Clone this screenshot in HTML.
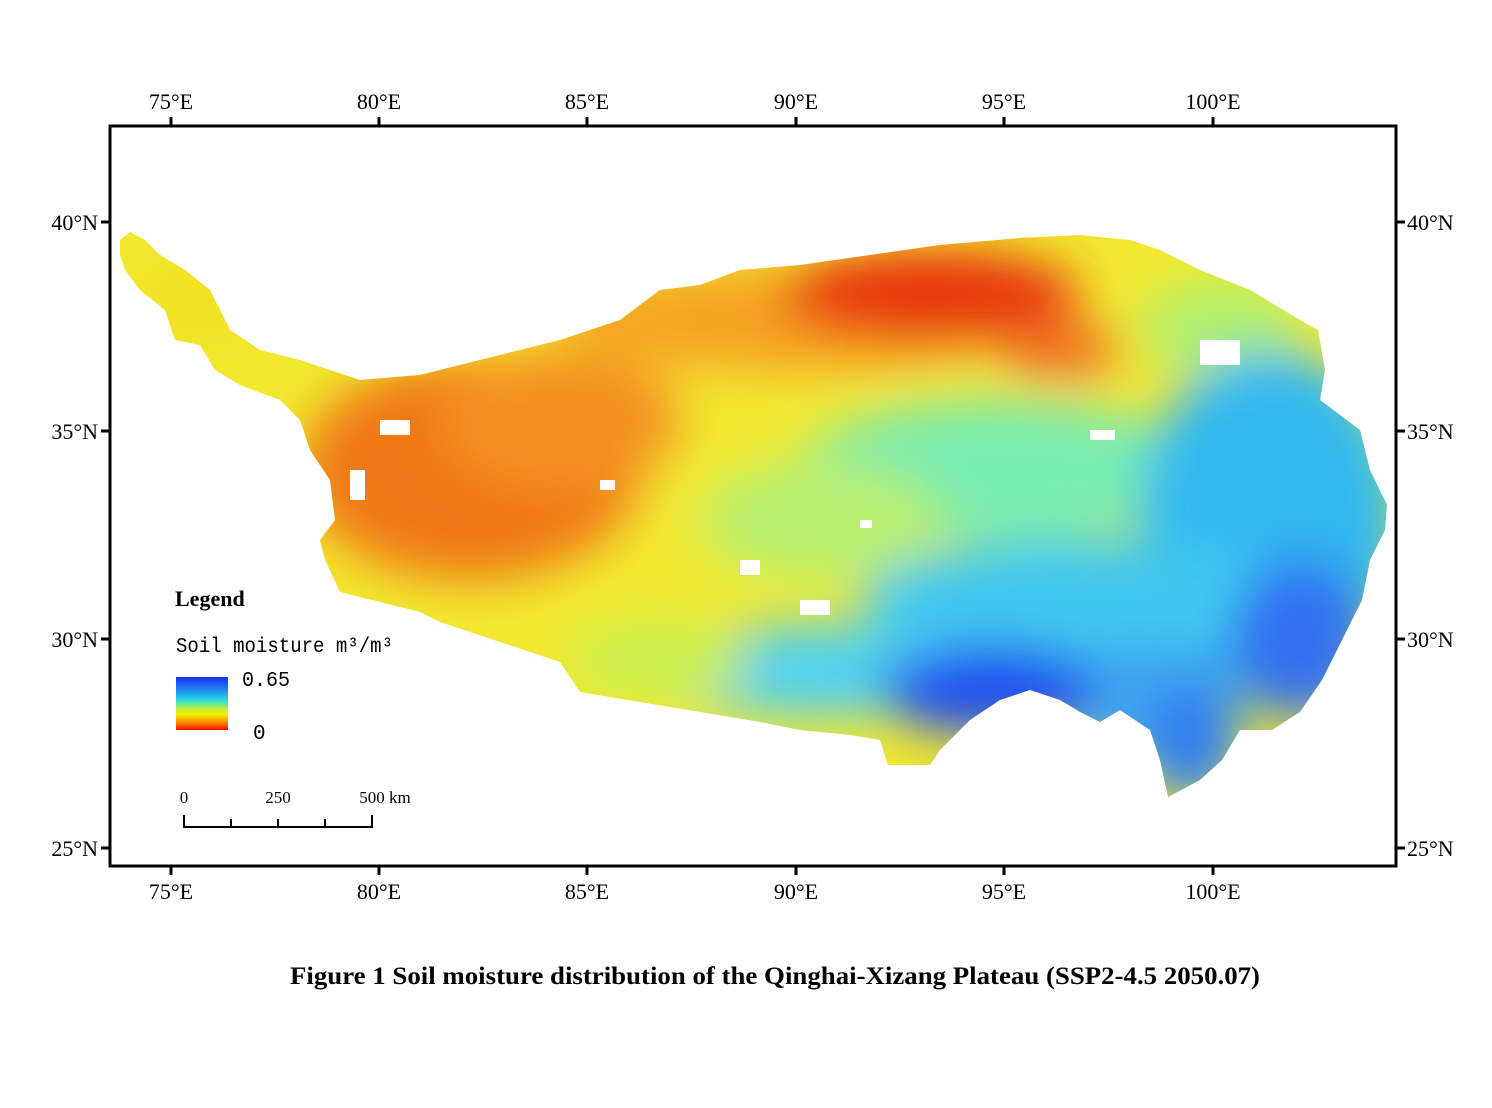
<!DOCTYPE html>
<html><head><meta charset="utf-8"><style>
body{margin:0;background:#fff;}
svg text{font-family:"Liberation Serif",serif;}
</style></head><body>
<svg width="1492" height="1103" viewBox="0 0 1492 1103" xmlns="http://www.w3.org/2000/svg">
<defs>
<clipPath id="tp"><polygon points="120,240 130,232 145,240 160,255 185,270 210,290 230,330 260,350 300,360 360,380 420,375 480,360 560,340 620,320 660,290 700,285 740,270 800,265 870,255 940,245 1020,238 1080,235 1130,240 1160,250 1200,270 1250,290 1300,320 1318,330 1325,370 1320,400 1360,430 1370,470 1387,505 1385,530 1370,560 1362,600 1342,640 1322,680 1300,712 1272,730 1240,730 1222,760 1200,780 1168,797 1160,760 1150,730 1120,710 1100,722 1080,712 1060,700 1030,690 1000,700 970,720 940,750 930,765 888,765 880,740 850,735 800,730 760,722 700,712 640,702 580,692 560,662 500,642 440,622 420,612 380,602 340,592 325,560 320,540 335,520 330,480 310,450 300,420 280,400 240,385 215,370 200,345 175,340 165,310 140,290 125,270 120,255"/></clipPath>
<filter id="bl" x="-50%" y="-50%" width="200%" height="200%"><feGaussianBlur stdDeviation="24"/></filter>
<linearGradient id="lg" x1="0" y1="0" x2="0" y2="1">
<stop offset="0" stop-color="#1a2cf0"/><stop offset="0.3" stop-color="#20a0f0"/><stop offset="0.45" stop-color="#30e0d0"/><stop offset="0.6" stop-color="#c0f040"/><stop offset="0.7" stop-color="#f8f000"/><stop offset="0.85" stop-color="#f89000"/><stop offset="1" stop-color="#f01000"/></linearGradient>
</defs>
<g clip-path="url(#tp)">
<rect x="110" y="220" width="1290" height="600" fill="#f2e830"/>
<g filter="url(#bl)">
<ellipse cx="200" cy="300" rx="70" ry="40" fill="#f0e020"/>
<ellipse cx="470" cy="470" rx="170" ry="110" fill="#f07818"/>
<ellipse cx="560" cy="420" rx="120" ry="70" fill="#f49020"/>
<ellipse cx="800" cy="320" rx="240" ry="50" fill="#f5a020"/>
<ellipse cx="930" cy="295" rx="150" ry="45" fill="#e83010"/>
<ellipse cx="1060" cy="350" rx="60" ry="30" fill="#f07020"/>
<ellipse cx="1000" cy="470" rx="200" ry="70" fill="#78ecb0"/>
<ellipse cx="820" cy="520" rx="120" ry="60" fill="#b8f070"/>
<ellipse cx="1220" cy="330" rx="80" ry="50" fill="#b0f070"/>
<ellipse cx="1270" cy="520" rx="130" ry="170" fill="#30b8f0"/>
<ellipse cx="1080" cy="600" rx="220" ry="60" fill="#40c8f0"/>
<ellipse cx="820" cy="670" rx="180" ry="45" fill="#50d0f0"/>
<ellipse cx="1150" cy="700" rx="90" ry="60" fill="#40a8f0"/>
<ellipse cx="990" cy="690" rx="110" ry="45" fill="#2050f0"/>
<ellipse cx="1300" cy="640" rx="70" ry="80" fill="#3070f0"/>
<ellipse cx="1190" cy="740" rx="50" ry="60" fill="#3080f0"/>
<ellipse cx="660" cy="660" rx="90" ry="40" fill="#c8f050"/>
</g>
<g fill="#fff">
<rect x="1200" y="340" width="40" height="25"/><rect x="380" y="420" width="30" height="15"/>
<rect x="350" y="470" width="15" height="30"/><rect x="800" y="600" width="30" height="15"/>
<rect x="740" y="560" width="20" height="15"/><rect x="600" y="480" width="15" height="10"/>
<rect x="1090" y="430" width="25" height="10"/><rect x="860" y="520" width="12" height="8"/>
</g>
</g>
<rect x="110" y="126" width="1286" height="740" fill="none" stroke="#000" stroke-width="3"/>
<g stroke="#000" stroke-width="3">
<line x1="171" y1="126" x2="171" y2="117"/><line x1="379" y1="126" x2="379" y2="117"/><line x1="587" y1="126" x2="587" y2="117"/><line x1="796" y1="126" x2="796" y2="117"/><line x1="1004" y1="126" x2="1004" y2="117"/><line x1="1213" y1="126" x2="1213" y2="117"/>
<line x1="171" y1="866" x2="171" y2="875"/><line x1="379" y1="866" x2="379" y2="875"/><line x1="587" y1="866" x2="587" y2="875"/><line x1="796" y1="866" x2="796" y2="875"/><line x1="1004" y1="866" x2="1004" y2="875"/><line x1="1213" y1="866" x2="1213" y2="875"/>
<line x1="101" y1="222" x2="110" y2="222"/><line x1="101" y1="431" x2="110" y2="431"/><line x1="101" y1="639" x2="110" y2="639"/><line x1="101" y1="848" x2="110" y2="848"/>
<line x1="1396" y1="222" x2="1405" y2="222"/><line x1="1396" y1="431" x2="1405" y2="431"/><line x1="1396" y1="639" x2="1405" y2="639"/><line x1="1396" y1="848" x2="1405" y2="848"/>
</g>
<g font-size="22" text-anchor="middle" fill="#000">
<text x="171" y="109">75°E</text><text x="379" y="109">80°E</text><text x="587" y="109">85°E</text><text x="796" y="109">90°E</text><text x="1004" y="109">95°E</text><text x="1213" y="109">100°E</text>
<text x="171" y="899">75°E</text><text x="379" y="899">80°E</text><text x="587" y="899">85°E</text><text x="796" y="899">90°E</text><text x="1004" y="899">95°E</text><text x="1213" y="899">100°E</text>
</g>
<g font-size="22" fill="#000">
<text x="98" y="230" text-anchor="end">40°N</text><text x="98" y="439" text-anchor="end">35°N</text><text x="98" y="647" text-anchor="end">30°N</text><text x="98" y="856" text-anchor="end">25°N</text>
<text x="1407" y="230">40°N</text><text x="1407" y="439">35°N</text><text x="1407" y="647">30°N</text><text x="1407" y="856">25°N</text>
</g>
<text x="175" y="606" font-size="22" font-weight="bold">Legend</text>
<text x="176" y="652" font-size="21" textLength="217" lengthAdjust="spacingAndGlyphs" style="font-family:'Liberation Mono',monospace">Soil moisture m³/m³</text>
<rect x="176" y="677" width="52" height="53" fill="url(#lg)"/>
<text x="242" y="686" font-size="21" textLength="48" lengthAdjust="spacingAndGlyphs" style="font-family:'Liberation Mono',monospace">0.65</text>
<text x="253" y="739" font-size="21" style="font-family:'Liberation Mono',monospace">0</text>
<g font-size="17" text-anchor="middle"><text x="184" y="803">0</text><text x="278" y="803">250</text><text x="385" y="803">500 km</text></g>
<g stroke="#000" stroke-width="2" fill="none"><polyline points="184,815 184,827 372,827 372,815"/><line x1="231" y1="819" x2="231" y2="827"/><line x1="278" y1="819" x2="278" y2="827"/><line x1="325" y1="819" x2="325" y2="827"/></g>
<text x="290" y="984" font-size="25" font-weight="bold" textLength="970" lengthAdjust="spacingAndGlyphs">Figure 1  Soil moisture distribution of the Qinghai-Xizang Plateau (SSP2-4.5 2050.07)</text>
</svg>
</body></html>
